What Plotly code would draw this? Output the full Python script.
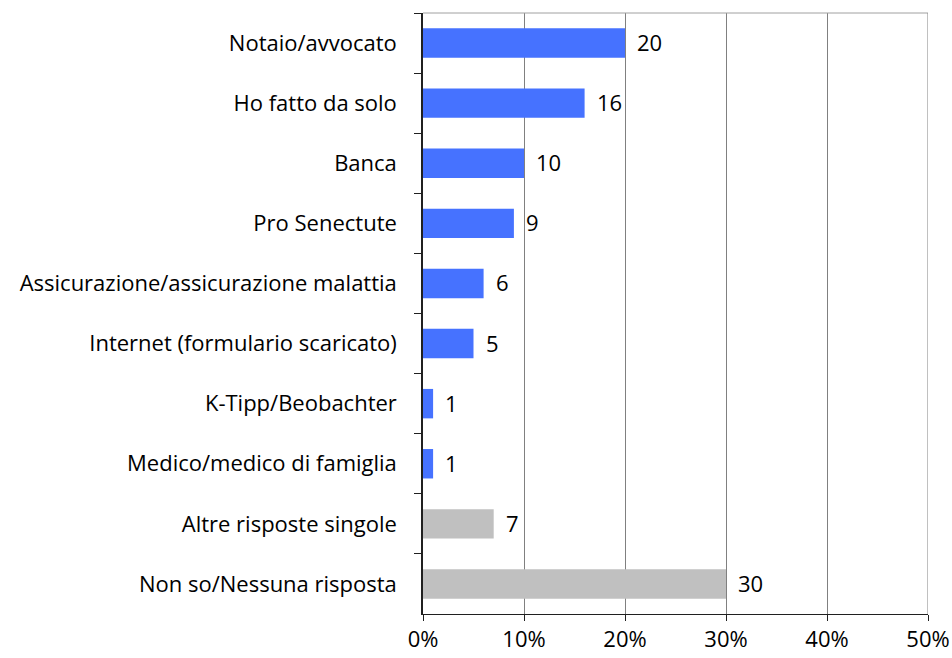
import plotly.graph_objects as go

categories = [
    "Notaio/avvocato",
    "Ho fatto da solo",
    "Banca",
    "Pro Senectute",
    "Assicurazione/assicurazione malattia",
    "Internet (formulario scaricato)",
    "K-Tipp/Beobachter",
    "Medico/medico di famiglia",
    "Altre risposte singole",
    "Non so/Nessuna risposta",
]
values = [20, 16, 10, 9, 6, 5, 1, 1, 7, 30]
groups = ["main"] * 8 + ["other"] * 2
tick_vals = [0, 10, 20, 30, 40, 50]
tick_text = ["0%", "10%", "20%", "30%", "40%", "50%"]

color_map = {"main": "#4672FF", "other": "#C0C0C0"}
FONT = "Open Sans"
FS = 22

fig = go.Figure()
fig.add_trace(go.Bar(
    y=categories, x=values, orientation="h",
    marker=dict(color=[color_map[g] for g in groups], line=dict(width=0)),
    width=0.49, hoverinfo="skip",
))

for c, v in zip(categories, values):
    fig.add_annotation(x=v, y=c, text=str(v), showarrow=False,
                       xanchor="left", xshift=10, yshift=1,
                       font=dict(family=FONT, size=FS, color="#000000"))

fig.add_shape(type="line", xref="paper", yref="paper", x0=0, x1=1, y0=1, y1=1,
              line=dict(color="#A0A0A0", width=1))
fig.add_shape(type="line", xref="x", yref="paper", x0=50, x1=50, y0=0, y1=1,
              line=dict(color="#808080", width=1))

fig.update_layout(
    width=952, height=658, autosize=False,
    margin=dict(l=423, r=24, t=13, b=44),
    plot_bgcolor="white", paper_bgcolor="white",
    showlegend=False,
    font=dict(family=FONT, size=FS, color="#000000"),
)
fig.update_xaxes(range=[0, 50], tickvals=tick_vals, ticktext=tick_text,
                 automargin=False,
                 showgrid=True, gridcolor="#808080", gridwidth=1,
                 showline=True, linecolor="#202020", linewidth=1,
                 ticks="outside", ticklen=6, tickcolor="#202020",
                 zeroline=False, tickfont=dict(size=FS, family=FONT))
fig.update_yaxes(autorange="reversed", showgrid=False, automargin=False,
                 showline=True, linecolor="#202020", linewidth=1.5,
                 ticks="outside", ticklen=7, tickcolor="#202020", tickson="boundaries",
                 ticklabelstandoff=20,
                 tickfont=dict(size=FS, family=FONT))

fig.write_html(
    "out.html",
    config={"displayModeBar": False, "responsive": False},
    post_script=("document.documentElement.style.margin='0';"
                 "document.documentElement.style.overflow='hidden';"
                 "document.body.style.margin='0';document.body.style.padding='0';"
                 "document.body.style.overflow='hidden';"),
)
